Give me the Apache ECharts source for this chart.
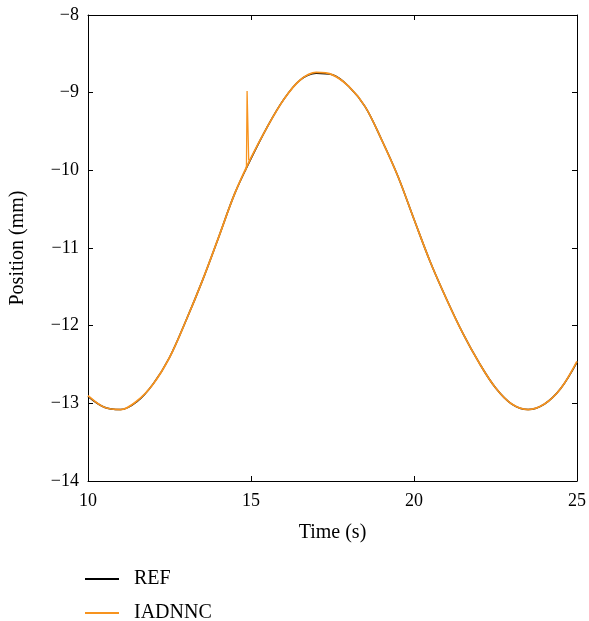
<!DOCTYPE html>
<html>
<head>
<meta charset="utf-8">
<script src="https://cdn.jsdelivr.net/npm/echarts@6/dist/echarts.min.js"></script>
<style>html,body{margin:0;padding:0;background:#fff;}#chart{width:589px;height:621px;}</style>
</head>
<body>
<div id="chart"></div>
<script>
// Time (s)
var time = [10, 10.5, 11, 11.5, 12, 12.5, 13, 13.5, 14, 14.5, 15, 15.5, 16, 16.5, 17, 17.5, 18, 18.5, 19, 19.5, 20, 20.5, 21, 21.5, 22, 22.5, 23, 23.5, 24, 24.5, 25];
// REF position (mm)
var refPos = [-12.91, -13.05, -13.08, -12.98, -12.75, -12.41, -11.94, -11.43, -10.87, -10.30, -9.85, -9.44, -9.09, -8.84, -8.75, -8.77, -8.92, -9.18, -9.60, -10.07, -10.63, -11.18, -11.66, -12.10, -12.48, -12.80, -13.01, -13.08, -13.01, -12.81, -12.47];
// IADNNC position (mm) on the same time samples
var iadPos = [-12.90, -13.05, -13.08, -12.97, -12.75, -12.41, -11.94, -11.43, -10.87, -10.30, -9.84, -9.44, -9.09, -8.84, -8.74, -8.77, -8.92, -9.18, -9.60, -10.07, -10.63, -11.18, -11.66, -12.10, -12.48, -12.80, -13.01, -13.08, -13.01, -12.81, -12.46];
// IADNNC spike near t = 14.9 s
var spikeTime = [14.84, 14.86, 14.88, 14.90, 14.93, 14.97];
var spikePos = [-10.00, -9.95, -8.98, -8.98, -9.87, -9.86];

var xTicks = {min: 10, max: 25, interval: 5};
var yTicks = {min: -14, max: -8, interval: 1};

function pairs(xs, ys) { return xs.map(function (x, i) { return [x, ys[i]]; }); }
function fmt(v) { return v < 0 ? '\u2212' + Math.abs(v) : String(v); }

var FONT = 'Liberation Serif';
var ORANGE = '#F7931E';
var chart = echarts.init(document.getElementById('chart'), null, {renderer: 'canvas'});
var axisCommon = {
  axisLine: {show: true, lineStyle: {color: '#000', width: 1}},
  axisTick: {show: true, inside: true, length: 5, lineStyle: {color: '#000'}},
  splitLine: {show: false}
};
chart.setOption({
  animation: false,
  backgroundColor: '#fff',
  grid: {left: 85, right: 12, top: 15, bottom: 140, containLabel: false},
  legend: {
    orient: 'vertical', left: 85, top: 569, padding: 0, height: 60,
    itemWidth: 34, itemHeight: 2, itemGap: 14,
    icon: 'rect',
    textStyle: {fontFamily: FONT, fontSize: 20, color: '#000', lineHeight: 20, padding: [0, 0, 0, 10]},
    data: ['REF', 'IADNNC']
  },
  xAxis: [
    Object.assign({
      type: 'value', min: xTicks.min, max: xTicks.max, interval: xTicks.interval, position: 'bottom',
      name: 'Time (s)', nameLocation: 'middle', nameGap: 42,
      nameTextStyle: {fontFamily: FONT, fontSize: 20, color: '#000'},
      axisLabel: {fontFamily: FONT, fontSize: 18, color: '#000', margin: 11, formatter: fmt}
    }, axisCommon),
    Object.assign({
      type: 'value', min: xTicks.min, max: xTicks.max, interval: xTicks.interval, position: 'top',
      axisLabel: {show: false}
    }, axisCommon)
  ],
  yAxis: [
    Object.assign({
      type: 'value', min: yTicks.min, max: yTicks.max, interval: yTicks.interval, position: 'left',
      name: 'Position (mm)', nameLocation: 'middle', nameGap: 60,
      nameTextStyle: {fontFamily: FONT, fontSize: 20, color: '#000'},
      axisLabel: {fontFamily: FONT, fontSize: 18, color: '#000', margin: 9, formatter: fmt}
    }, axisCommon),
    Object.assign({
      type: 'value', min: yTicks.min, max: yTicks.max, interval: yTicks.interval, position: 'right',
      axisLabel: {show: false}
    }, axisCommon)
  ],
  series: [
    {name: 'REF', type: 'line', data: pairs(time, refPos), showSymbol: false, symbol: 'none', smooth: 0.35,
     lineStyle: {color: '#000', width: 1.5}, itemStyle: {color: '#000'}},
    {name: 'IADNNC', type: 'line', data: pairs(time, iadPos), showSymbol: false, symbol: 'none', smooth: 0.35,
     lineStyle: {color: ORANGE, width: 1.8}, itemStyle: {color: ORANGE}},
    {name: 'IADNNC', type: 'line', data: pairs(spikeTime, spikePos), showSymbol: false, symbol: 'none',
     lineStyle: {color: ORANGE, width: 1.3}, itemStyle: {color: ORANGE}}
  ]
});
</script>
</body>
</html>
